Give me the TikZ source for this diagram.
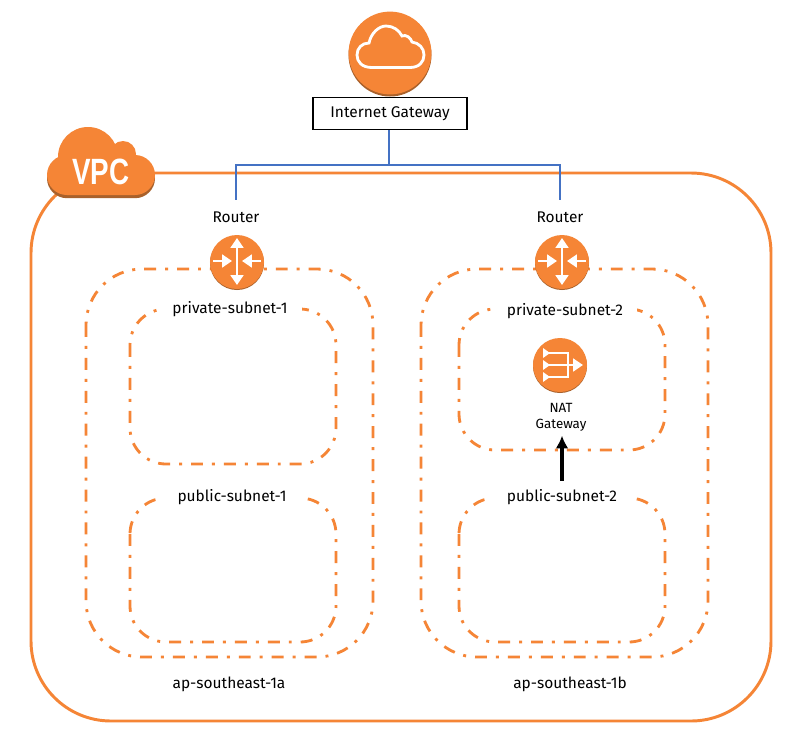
\documentclass[tikz,border=0pt]{standalone}
\usepackage{fontspec}
\setmainfont{Fira Sans}
\newfontfamily\vpcfont{Liberation Sans}
\usetikzlibrary{arrows.meta, positioning}
\definecolor{awsorange}{HTML}{F58536}
\definecolor{awsbrown}{HTML}{A9612B}
\definecolor{linkblue}{HTML}{4472C4}
\tikzset{
    region/.style={draw=awsorange, line width=2pt, dash pattern=on 8.5pt off 6.4pt on 2.1pt off 6.4pt},
    badge/.style={circle, fill=awsorange, minimum size=1.35cm, inner sep=0pt},
    tag/.style={fill=white, font=\fontsize{11}{13}\selectfont, inner ysep=2pt, inner xsep=10pt},
    link/.style={draw=linkblue, line width=1.6pt},
    glyph/.style={draw=white, line width=2.1pt},
    pics/routerglyph/.style={code={
        \draw[glyph, {Triangle[width=9pt,length=7pt]}-{Triangle[width=9pt,length=7pt]}] (0,-24) -- (0,23);
        \draw[glyph, -{Triangle[width=9pt,length=7pt]}] (-24,-1) -- (-5,-1);
        \draw[glyph, -{Triangle[width=9pt,length=7pt]}] (24,-1) -- (5,-1);
    }},
    pics/natglyph/.style={code={
        \draw[glyph] (-11,-12) -- (8,-12) -- (8,12) -- (-11,12);
        \draw[glyph, -{Triangle[width=9pt,length=7pt]}] (-11,0) -- (23,0);
        \foreach \row in {-12,0,12} {
            \fill[white] (-17,\row-5) -- (-10,\row) -- (-17,\row+5) -- cycle;
        }
    }},
}
\newcommand{\cloudblob}[1]{
    \fill[#1, rounded corners=0.5cm] (47,155) rectangle (155,195);
    \fill[#1] (88,157) circle (30);
    \fill[#1] (123,154) circle (13);
}
\begin{document}
\begin{tikzpicture}[x=0.025cm, y=-0.025cm]
    \useasboundingbox[fill=white] (0,0) rectangle (800,745);

    % vpc and zones
    \draw[draw=awsorange, line width=2.1pt, rounded corners=2cm] (31,173) rectangle (771,721);
    \draw[region, rounded corners=1.4cm] (86,269) rectangle (373,657);
    \draw[region, rounded corners=1.4cm] (421,269) rectangle (708,657);
    \draw[region, rounded corners=0.9cm] (130,309) rectangle (336,464);
    \draw[region, rounded corners=0.9cm] (130,498) rectangle (336,642);
    \draw[region, rounded corners=0.9cm] (459,309) rectangle (665,450);
    \draw[region, rounded corners=0.9cm] (459,498) rectangle (665,642);

    % labels
    \node[tag] (private1) at (230,309) {private-subnet-1};
    \node[tag] (public1) at (232,497) {public-subnet-1};
    \node[tag] (private2) at (565,311) {private-subnet-2};
    \node[tag] (public2) at (562,497) {public-subnet-2};
    \node[tag] (zonea) at (229,684) {ap-southeast-1a};
    \node[tag] (zoneb) at (570,684) {ap-southeast-1b};
    \node[tag, minimum height=0.85cm] (routera) at (236,217) {Router};
    \node[tag, minimum height=0.85cm] (routerb) at (560,217) {Router};
    \node[tag, align=center, fill=none, font=\fontsize{9.5}{11.5}\selectfont] (natlabel) at (561,417) {NAT\\Gateway};

    % internet gateway
    \fill[awsbrown] (390,55) circle (41.5);
    \node[badge, minimum size=2.07cm] (igwicon) at (390,53) {};
    \draw[draw=white, line width=2pt] (372,67.5) .. controls (362,67.5) and (357,62) .. (357,55)
        .. controls (357,48) and (362,43) .. (369,43)
        .. controls (371,33) and (379,26) .. (386,26)
        .. controls (393,26) and (399,30) .. (402,36)
        .. controls (406,34) and (411,38) .. (412,42)
        .. controls (419,43) and (424,48) .. (424,55)
        .. controls (424,62) and (419,67.5) .. (410,67.5) -- cycle;
    \node[draw, fill=white, line width=0.8pt, minimum width=3.85cm, minimum height=0.82cm, inner sep=0pt, font=\fontsize{11}{13}\selectfont] (igw) at (390,113.5) {Internet Gateway};

    % vpc cloud
    \begin{scope}[yshift=-0.08cm]
        \cloudblob{awsbrown}
    \end{scope}
    \cloudblob{awsorange}
    \node[text=white, xscale=0.76, font=\vpcfont\bfseries\fontsize{26}{26}\selectfont] (vpc) at (101,172) {VPC};

    % routers and nat
    \foreach \px/\name in {237/routericona, 562/routericonb} {
        \fill[awsbrown] (\px,263) circle (27);
        \node[badge] (\name) at (\px,262) {};
        \pic at (\px,262) {routerglyph};
    }
    \fill[awsbrown] (560,366) circle (27);
    \node[badge] (naticon) at (560,365) {};
    \pic at (560,365) {natglyph};

    % connectors
    \coordinate (bus) at (389,165);
    \draw[link, line width=2.1pt] (igw.south -| bus) -- (bus);
    \draw[link] (bus) -| (routera.north);
    \draw[link] (bus) -| (routerb.north);
    \draw[line width=2.2pt, -{Latex[length=9pt,width=9pt]}, shorten <=4pt, shorten >=1pt] (public2.north) -- (public2.north |- natlabel.south);
\end{tikzpicture}
\end{document}
